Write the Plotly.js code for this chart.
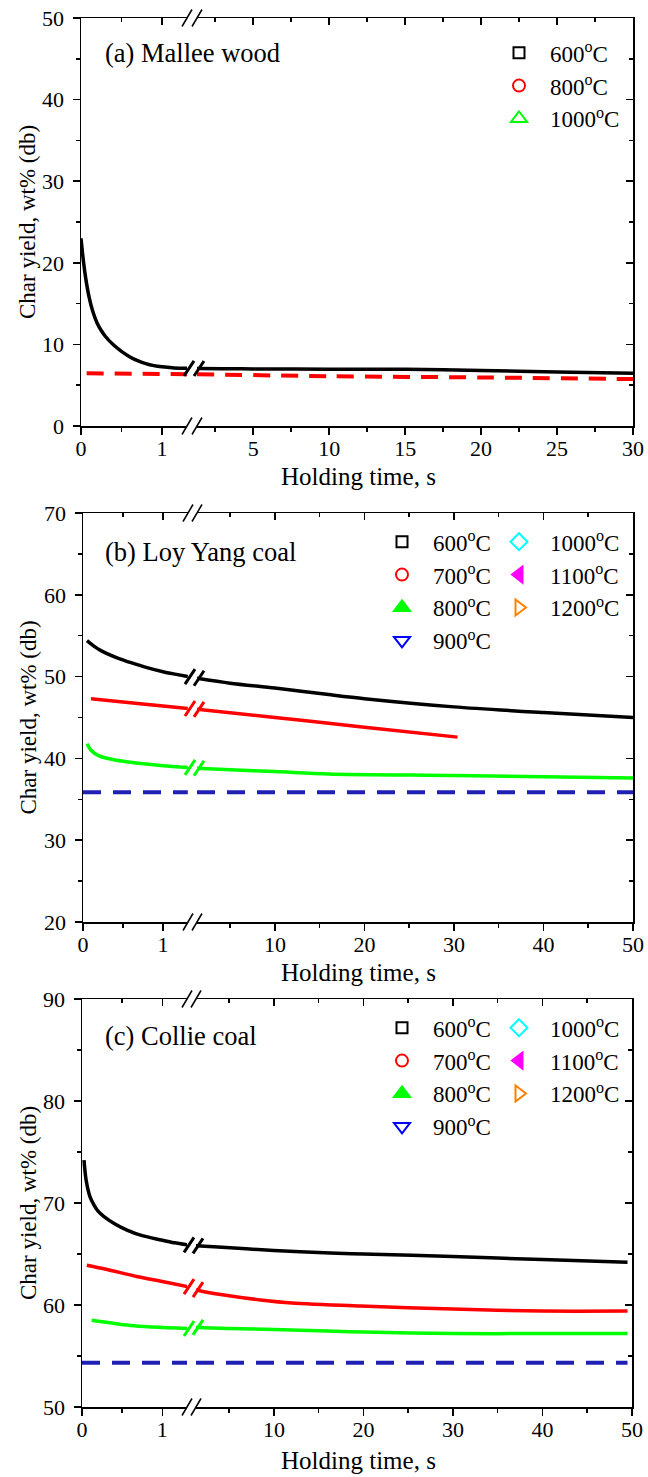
<!DOCTYPE html>
<html><head><meta charset="utf-8">
<script src="https://cdn.plot.ly/plotly-3.0.1.min.js"></script>
<style>html,body{margin:0;padding:0;background:#fff}</style>
</head><body><div id="chart" style="width:648px;height:1477px"></div>
<script>
// ---------------- DATA ----------------
// (a) Mallee wood
const tA600_L = [0,0.03,0.06,0.1,0.15,0.2,0.25,0.3,0.4,0.5,0.6,0.7,0.8,0.9,1.0,1.15,1.31];
const a600_L  = [23.0,20.2,18.0,15.8,13.9,12.6,11.7,11.0,9.95,9.15,8.5,8.0,7.65,7.4,7.25,7.12,7.07];
const tA600_R = [1.3,3,5,10,15,20,25,30];
const a600_R  = [7.05,7.02,7.0,6.95,6.95,6.8,6.62,6.45];
const tA800_L = [0.07,1.31];
const a800_L  = [6.45,6.35];
const tA800_R = [1.3,10,20,30];
const a800_R  = [6.35,6.1,5.95,5.75];

// (b) Loy Yang coal
const tB600_L = [0.05,0.1,0.2,0.3,0.45,0.6,0.8,1.0,1.15,1.31];
const b600_L  = [54.4,54.0,53.3,52.8,52.2,51.7,51.1,50.6,50.3,50.0];
const tB600_R = [1.3,5,10,16,20,30,40,50];
const b600_R  = [49.8,49.2,48.6,47.8,47.3,46.3,45.6,45.0];
const tB700_L = [0.1,0.5,1.0,1.31];
const b700_L  = [47.3,46.9,46.4,46.1];
const tB700_R = [1.3,10,16,20,30.4];
const b700_R  = [46.0,45.0,44.3,43.8,42.6];
const tB800_L = [0.05,0.1,0.2,0.4,0.7,1.0,1.31];
const b800_L  = [41.8,41.0,40.3,39.8,39.4,39.1,38.9];
const tB800_R = [1.3,5,10,16,30,50];
const b800_R  = [38.8,38.6,38.4,38.1,37.9,37.6];
const tB900_L = [0,1.31];
const b900_L  = [35.85,35.85];
const tB900_R = [1.3,50];
const b900_R  = [35.85,35.85];

// (c) Collie coal
const tC600_L = [0.025,0.05,0.1,0.15,0.2,0.27,0.4,0.56,0.75,0.97,1.15,1.31];
const c600_L  = [74.2,72.3,70.6,69.8,69.2,68.7,68.0,67.35,66.8,66.4,66.1,65.9];
const tC600_R = [1.3,3.3,10,16.3,20,30,40,49.5];
const c600_R  = [65.8,65.7,65.35,65.1,65.0,64.75,64.45,64.2];
const tC700_L = [0.06,0.3,0.68,1.0,1.31];
const c700_L  = [63.9,63.5,62.8,62.3,61.8];
const tC700_R = [1.3,2.2,5,8.5,12,19.7,30,40,49.5];
const c700_R  = [61.5,61.3,60.9,60.5,60.2,59.9,59.6,59.4,59.4];
const tC800_L = [0.12,0.6,1.31];
const c800_L  = [58.5,58.0,57.7];
const tC800_R = [1.3,5,10,16,20,30,40,49.5];
const c800_R  = [57.8,57.7,57.6,57.45,57.35,57.2,57.2,57.2];
const tC900_L = [0,1.31];
const c900_L  = [54.35,54.35];
const tC900_R = [1.3,49.5];
const c900_R  = [54.35,54.35];

// legend temperatures
const tempsA  = [600,800,1000];
const tempsBC = [600,700,800,900,1000,1100,1200];
const panelLabels = ['(a) Mallee wood','(b) Loy Yang coal','(c) Collie coal'];
const xTitle = 'Holding time, s';
const yTitle = 'Char yield, wt% (db)';

// ---------------- STYLE / LAYOUT ----------------
const W = 648, H = 1477;
const FONT = 'Liberation Serif, Times New Roman, serif';
const px = v => v / W;
const py = v => 1 - v / H;
const aid = n => (n === 1 ? '' : String(n));

const K='#000000', R='#ff0000', G='#00ff00', BD='#1f1fb4';
const DASH_A = '17px,11px', DASH_B = '18px,12px';

const legendStyle = {
  600:{symbol:'square-open',color:'#000000',size:11},
  700:{symbol:'circle-open',color:'#ff0000',size:12},
  800:{symbol:'triangle-up',color:'#00ff00',size:14},
  900:{symbol:'triangle-down-open',color:'#0000ff',size:14},
  1000:{symbol:'diamond-open',color:'#00ffff',size:13},
  1100:{symbol:'triangle-left',color:'#ff00ff',size:14},
  1200:{symbol:'triangle-right-open',color:'#ff8000',size:14}
};
const legendStyleA = {
  600:{symbol:'square-open',color:'#000000',size:11},
  800:{symbol:'circle-open',color:'#ff0000',size:12},
  1000:{symbol:'triangle-up-open',color:'#00ff00',size:14}
};

const panels = [
  {xL:[81,187], xR:[197,633], yTop:18, yBot:426, rL:[0,1.31], rR:[1.3,30], dR:5, mR:2.5, yr:[0,50],
   labelY:53, titleY:476,
   series:[
     {tL:tA600_L,yL:a600_L,tR:tA600_R,yR:a600_R,color:K,dash:'solid',mark:true},
     {tL:tA800_L,yL:a800_L,tR:tA800_R,yR:a800_R,color:R,dash:DASH_A,mark:false}],
   legends:[{temps:tempsA, style:legendStyleA, x:519, y:52.7}]},
  {xL:[83,188], xR:[197,633], yTop:513, yBot:922, rL:[0,1.3125], rR:[1.3,50], dR:10, mR:5, yr:[20,70],
   labelY:551.7, titleY:972,
   series:[
     {tL:tB600_L,yL:b600_L,tR:tB600_R,yR:b600_R,color:K,dash:'solid',mark:true},
     {tL:tB700_L,yL:b700_L,tR:tB700_R,yR:b700_R,color:R,dash:'solid',mark:true},
     {tL:tB800_L,yL:b800_L,tR:tB800_R,yR:b800_R,color:G,dash:'solid',mark:true},
     {tL:tB900_L,yL:b900_L,tR:tB900_R,yR:b900_R,color:BD,dash:DASH_B,mark:false}],
   legends:[{temps:tempsBC.slice(0,4), style:legendStyle, x:402, y:541.7},
            {temps:tempsBC.slice(4), style:legendStyle, x:519, y:541.7}]},
  {xL:[82,187], xR:[196,632], yTop:999, yBot:1407, rL:[0,1.307], rR:[1.3,50], dR:10, mR:5, yr:[50,90],
   labelY:1036, titleY:1460,
   series:[
     {tL:tC600_L,yL:c600_L,tR:tC600_R,yR:c600_R,color:K,dash:'solid',mark:true},
     {tL:tC700_L,yL:c700_L,tR:tC700_R,yR:c700_R,color:R,dash:'solid',mark:true},
     {tL:tC800_L,yL:c800_L,tR:tC800_R,yR:c800_R,color:G,dash:'solid',mark:true},
     {tL:tC900_L,yL:c900_L,tR:tC900_R,yR:c900_R,color:BD,dash:DASH_B,mark:false}],
   legends:[{temps:tempsBC.slice(0,4), style:legendStyle, x:402, y:1027.7},
            {temps:tempsBC.slice(4), style:legendStyle, x:519, y:1027.7}]}
];

const tickFont = {family:FONT, size:22, color:'#000'};
function axisBase(extra){
  return Object.assign({
    showline:true, linecolor:'#000', linewidth:1.5, mirror:false,
    ticks:'outside', ticklen:7, tickwidth:1.5, tickcolor:'#000',
    showgrid:false, zeroline:false, tickfont:tickFont, fixedrange:true,
    tickmode:'linear'
  }, extra);
}
function minor(d, dir){ return {dtick:d, ticks:dir, ticklen:4, tickwidth:1.5, tickcolor:'#000', showgrid:false}; }

const layout = {
  width:W, height:H, margin:{l:0,r:0,t:0,b:0},
  paper_bgcolor:'#fff', plot_bgcolor:'rgba(0,0,0,0)',
  font:{family:FONT, color:'#000'},
  showlegend:true, annotations:[], shapes:[]
};
const data = [];
let legendCount = 0;
const blank = (xa, ya) => ({type:'scatter', mode:'lines', x:[null], y:[null], xaxis:xa, yaxis:ya, showlegend:false, hoverinfo:'skip'});

panels.forEach((p, i) => {
  const nBL = 4*i+1, nBR = 4*i+2, nTL = 4*i+3, nTR = 4*i+4;
  const nYL = 2*i+1, nYR = 2*i+2;
  const xBL='x'+aid(nBL), xBR='x'+aid(nBR), xTL='x'+aid(nTL), xTR='x'+aid(nTR);
  const yL='y'+aid(nYL), yR='y'+aid(nYR);
  const domL=[px(p.xL[0]),px(p.xL[1])], domR=[px(p.xR[0]),px(p.xR[1])];
  const domY=[py(p.yBot),py(p.yTop)];

  layout['xaxis'+aid(nBL)] = axisBase({domain:domL, range:p.rL, anchor:yL, tick0:0, dtick:1, minor:minor(0.5,'outside'), ticklabelstandoff:-5});
  layout['xaxis'+aid(nBR)] = axisBase({domain:domR, range:p.rR, anchor:yL, tick0:0, dtick:p.dR, minor:minor(p.mR,'outside'), ticklabelstandoff:-5});
  layout['xaxis'+aid(nTL)] = axisBase({overlaying:xBL, side:'top', anchor:yL, range:p.rL, ticks:'inside', showticklabels:false, tick0:0, dtick:1, minor:minor(0.5,'inside')});
  layout['xaxis'+aid(nTR)] = axisBase({overlaying:xBR, side:'top', anchor:yL, range:p.rR, ticks:'inside', showticklabels:false, tick0:0, dtick:p.dR, minor:minor(p.mR,'inside')});
  layout['yaxis'+aid(nYL)] = axisBase({domain:domY, range:p.yr, anchor:xBL, side:'left', tick0:0, dtick:10, minor:minor(5,'outside'), ticklabelstandoff:4});
  layout['yaxis'+aid(nYR)] = axisBase({overlaying:yL, side:'right', anchor:xBR, range:p.yr, ticks:'inside', showticklabels:false, tick0:0, dtick:10, minor:minor(5,'inside')});

  // empty traces so the mirror (top / right) axes are drawn
  data.push(blank(xTL, yL), blank(xTR, yL), blank(xBR, yR));

  // series lines
  p.series.forEach(s => {
    const ln = {color:s.color, width:(s.dash==='solid'?3.5:4), dash:s.dash, shape:'spline', smoothing:0.8};
    data.push({type:'scatter', mode:'lines', x:s.tL, y:s.yL, xaxis:xBL, yaxis:yL, line:ln, showlegend:false, hoverinfo:'skip'});
    data.push({type:'scatter', mode:'lines', x:s.tR, y:s.yR, xaxis:xBR, yaxis:yL, line:ln, showlegend:false, hoverinfo:'skip'});
    if (s.mark) {
      layout.shapes.push({type:'line', xref:xBL+' domain', yref:yL, xsizemode:'pixel', ysizemode:'pixel',
        xanchor:1, yanchor:s.yL[s.yL.length-1], x0:-3, x1:7, y0:-7.5, y1:7.5, line:{color:s.color,width:3}});
      layout.shapes.push({type:'line', xref:xBR+' domain', yref:yL, xsizemode:'pixel', ysizemode:'pixel',
        xanchor:0, yanchor:s.yR[0], x0:-3, x1:7, y0:-7.5, y1:7.5, line:{color:s.color,width:3}});
    }
  });

  // axis break marks (bottom and top)
  [0,1].forEach(yy => {
    layout.shapes.push({type:'line', xref:xBL+' domain', yref:yL+' domain', xsizemode:'pixel', ysizemode:'pixel',
      xanchor:1, yanchor:yy, x0:-5, x1:5, y0:-8.5, y1:8.5, line:{color:'#000',width:1.5}});
    layout.shapes.push({type:'line', xref:xBR+' domain', yref:yL+' domain', xsizemode:'pixel', ysizemode:'pixel',
      xanchor:0, yanchor:yy, x0:-5, x1:5, y0:-8.5, y1:8.5, line:{color:'#000',width:1.5}});
  });

  // legends (marker-only entries)
  p.legends.forEach(lg => {
    legendCount++;
    const lid = 'legend' + aid(legendCount);
    const rowH = 23*1.3 + 3;
    layout[lid] = {x:px(lg.x-31), y:py(lg.y - (5 + rowH/2)), xanchor:'left', yanchor:'top',
      xref:'paper', yref:'paper', bgcolor:'rgba(0,0,0,0)', borderwidth:0, itemwidth:52,
      font:{family:FONT,size:23,color:'#000'}, tracegroupgap:0, itemclick:false, itemdoubleclick:false};
    lg.temps.forEach(t => {
      const st = lg.style[t];
      data.push({type:'scatter', mode:'markers', x:[null], y:[null], xaxis:xBL, yaxis:yL,
        name: t + '<sup>o</sup>C', legend:lid, showlegend:true, hoverinfo:'skip',
        marker:{symbol:st.symbol, color:st.color, size:st.size, line:{color:st.color,width:2}}});
    });
  });

  // panel label
  layout.annotations.push({text:panelLabels[i], xref:'paper', yref:'paper', x:px(103), y:py(p.labelY),
    xanchor:'left', yanchor:'middle', showarrow:false, font:{family:FONT,size:26.5,color:'#000'}});
  // x title
  layout.annotations.push({text:xTitle, xref:'paper', yref:'paper', x:px(358), y:py(p.titleY),
    xanchor:'center', yanchor:'middle', showarrow:false, font:{family:FONT,size:25,color:'#000'}});
  // y title
  layout.annotations.push({text:yTitle, xref:'paper', yref:'paper', x:px(28), y:py((p.yTop+p.yBot)/2),
    xanchor:'center', yanchor:'middle', textangle:-90, showarrow:false, font:{family:FONT,size:23,color:'#000'}});
});

Plotly.newPlot('chart', data, layout, {staticPlot:true, displayModeBar:false});
</script></body></html>
